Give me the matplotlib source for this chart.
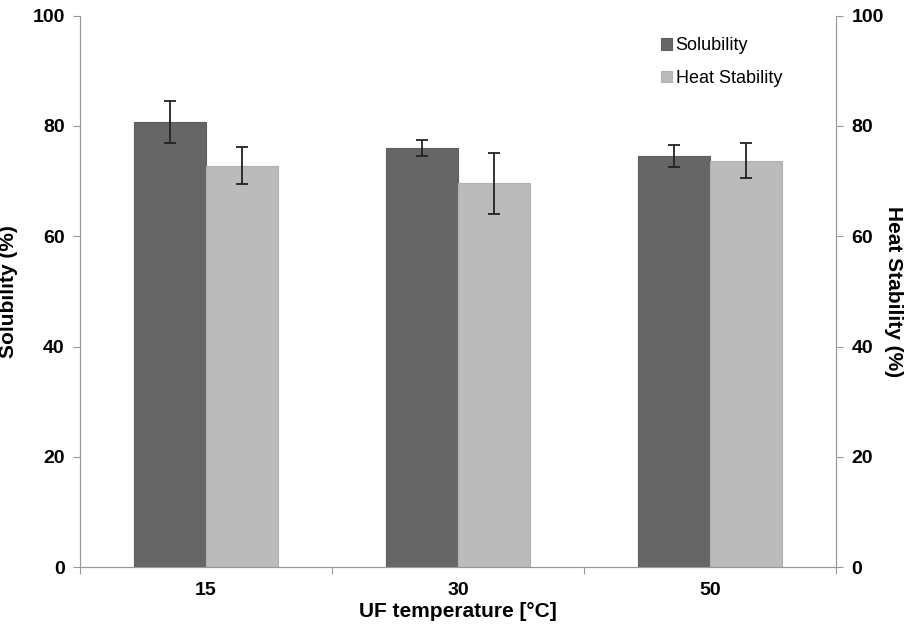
import numpy as np
import matplotlib.pyplot as plt

temps = ['15', '30', '50']
solubility = [80.8, 76.0, 74.5]
solubility_err = [3.8, 1.5, 2.0]
heat_stab = [72.8, 69.6, 73.7]
heat_stab_err = [3.4, 5.5, 3.2]

plt.rcParams['font.family'] = ['Liberation Sans', 'DejaVu Sans']

fig = plt.figure(figsize=(9.12, 6.28), dpi=100)
ax = fig.add_axes([0.0877, 0.097, 0.829, 0.878])

x = np.arange(len(temps)) + 0.5
w = 0.284
ax.bar(x - w/2, solubility, w, color='#666666', edgecolor='#5e5e5e', lw=0.8,
       yerr=solubility_err, capsize=4, error_kw=dict(ecolor='#222222', lw=1.3, capthick=1.3),
       label='Solubility')
ax.bar(x + w/2, heat_stab, w, color='#bbbbbb', edgecolor='#b0b0b0', lw=0.8,
       yerr=heat_stab_err, capsize=4, error_kw=dict(ecolor='#222222', lw=1.3, capthick=1.3),
       label='Heat Stability')

ax.set_xlim(0, 3)
ax.set_ylim(0, 100)
ax.set_yticks(np.arange(0, 101, 20))
ax.set_xticks([0, 1, 2, 3], minor=False)
ax.set_xticklabels([])
ax.set_xticks(x, minor=True)
ax.set_xticklabels(temps, minor=True)
ax.tick_params(axis='x', which='minor', length=0, pad=11, labelsize=14)
ax.tick_params(axis='x', which='major', length=5, color='#999999', direction='out')
ax.tick_params(axis='y', length=5, color='#999999', labelsize=14, pad=6)
for t in ax.get_xticklabels(minor=True) + ax.get_yticklabels():
    t.set_fontweight('bold')

for s in ['left', 'bottom', 'right']:
    ax.spines[s].set_color('#999999')
ax.spines['top'].set_visible(False)

ax.set_xlabel('UF temperature [°C]', fontsize=15, fontweight='bold', labelpad=2)
ax.set_ylabel('Solubility (%)', fontsize=15, fontweight='bold', labelpad=10)

ax2 = ax.twinx()
ax2.set_ylim(0, 100)
ax2.set_yticks(np.arange(0, 101, 20))
ax2.tick_params(axis='y', length=5, color='#999999', labelsize=14, pad=6)
for t in ax2.get_yticklabels():
    t.set_fontweight('bold')
for s in ['left', 'bottom', 'right']:
    ax2.spines[s].set_color('#999999')
ax2.spines['top'].set_visible(False)
ax2.set_ylabel('Heat Stability (%)', fontsize=15, fontweight='bold', rotation=270, labelpad=14)

ax.legend(loc='upper right', bbox_to_anchor=(0.95, 0.99), frameon=False, fontsize=13,
          handlelength=0.6, handleheight=0.6, handletextpad=0.2, labelspacing=0.85)

fig.savefig('out.png', dpi=100)
